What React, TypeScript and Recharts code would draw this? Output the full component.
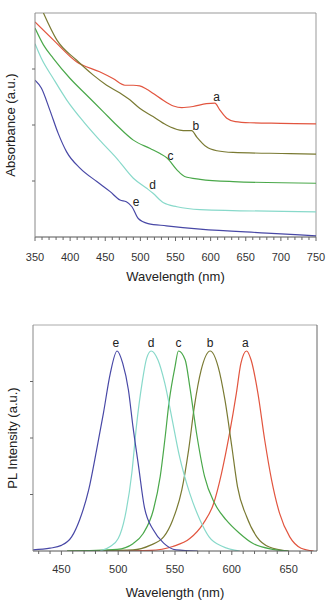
import React from 'react';
import { LineChart, Line, XAxis, YAxis, ReferenceLine, ReferenceDot } from 'recharts';

// ---------- shared ----------
const seriesNames = ['a', 'b', 'c', 'd', 'e'];
const seriesColors = ['#e2553f', '#7a7a33', '#4aa84a', '#88d9ca', '#4848a6'];

// ---------- Absorbance (top) ----------
const absAWl = [350, 376, 409, 442, 461, 478, 490, 499, 509, 528, 547, 559, 575, 594, 606, 613, 623, 635, 656, 700, 750];
const absAVal = [3.84, 3.52, 3.13, 2.95, 2.83, 2.71, 2.71, 2.70, 2.64, 2.48, 2.34, 2.31, 2.33, 2.38, 2.39, 2.27, 2.12, 2.06, 2.04, 2.03, 2.02];
const absBWl = [362, 381, 409, 433, 452, 471, 485, 499, 518, 537, 556, 566, 573, 580, 594, 609, 632, 713, 750];
const absBVal = [4.0, 3.52, 3.16, 2.89, 2.71, 2.57, 2.45, 2.30, 2.15, 2.0, 1.91, 1.90, 1.90, 1.79, 1.61, 1.54, 1.51, 1.49, 1.48];
const absCWl = [350, 362, 376, 400, 423, 447, 466, 490, 514, 528, 538, 552, 563, 585, 632, 750];
const absCVal = [3.73, 3.43, 3.19, 2.83, 2.54, 2.24, 2.0, 1.73, 1.58, 1.49, 1.41, 1.20, 1.08, 1.03, 0.99, 0.96];
const absDWl = [350, 359, 376, 395, 419, 442, 466, 490, 509, 518, 533, 552, 585, 750];
const absDVal = [3.45, 3.19, 2.83, 2.45, 2.06, 1.73, 1.41, 1.05, 0.87, 0.78, 0.61, 0.54, 0.49, 0.45];
const absEWl = [350, 359, 371, 383, 395, 414, 438, 457, 471, 480, 488, 497, 511, 537, 585, 680, 750];
const absEVal = [2.80, 2.66, 2.27, 1.85, 1.52, 1.23, 0.99, 0.81, 0.66, 0.63, 0.54, 0.33, 0.24, 0.20, 0.14, 0.07, 0.02];
const absLabelWl = [608.6, 579, 543, 517.5, 494];
const absLabelVal = [2.5, 1.98, 1.46, 0.94, 0.63];
const absMajorTicks = [350, 400, 450, 500, 550, 600, 650, 700, 750];
const absYTicks = [1, 2, 3];

// ---------- PL (bottom) ----------
const plAWl = [499, 528, 548, 563, 575, 584, 591, 598, 604, 608, 613, 617, 623, 629, 635, 642, 651, 661, 672];
const plAVal = [0, 0.01, 0.08, 0.22, 0.49, 0.84, 1.38, 2.08, 2.79, 3.32, 3.54, 3.38, 2.79, 1.96, 1.26, 0.67, 0.25, 0.05, 0];
const plBWl = [455, 513, 528, 540, 548, 556, 562, 567, 573, 581, 588, 594, 600, 605, 613, 622, 633, 650];
const plBVal = [0, 0.02, 0.10, 0.25, 0.55, 1.08, 1.79, 2.55, 3.20, 3.54, 3.26, 2.67, 1.85, 1.14, 0.61, 0.25, 0.07, 0];
const plCWl = [455, 499, 513, 522, 531, 537, 541, 545, 550, 553, 559, 563, 569, 576, 585, 595, 607, 618, 636, 650];
const plCVal = [0, 0.03, 0.13, 0.31, 0.73, 1.32, 1.96, 2.67, 3.26, 3.54, 3.38, 2.91, 2.08, 1.32, 0.84, 0.55, 0.31, 0.14, 0.03, 0];
const plDWl = [484, 493, 500, 506, 512, 516, 521, 525, 529, 535, 541, 547, 554, 563, 572, 580, 592, 607];
const plDVal = [0, 0.08, 0.22, 0.61, 1.38, 2.20, 2.97, 3.41, 3.54, 3.38, 2.97, 2.38, 1.67, 1.02, 0.55, 0.25, 0.08, 0];
const plEWl = [425, 440, 450, 459, 466, 474, 481, 487, 493, 499, 504, 509, 513, 518, 523, 531, 540, 551, 570];
const plEVal = [0.02, 0.05, 0.10, 0.25, 0.55, 1.08, 1.79, 2.44, 3.14, 3.54, 3.32, 2.85, 2.20, 1.49, 0.78, 0.37, 0.14, 0.02, 0];
const plLabelWl = [612, 581, 553, 529, 498];
const plLabelVal = [3.69, 3.69, 3.69, 3.69, 3.69];
const plMajorTicks = [450, 500, 550, 600, 650];
const plYTicks = [1, 2, 3];

const toPts = (wl: number[], v: number[]) => wl.map((w, i) => ({ wl: w, v: v[i] }));

const absSeries = [
  toPts(absAWl, absAVal),
  toPts(absBWl, absBVal),
  toPts(absCWl, absCVal),
  toPts(absDWl, absDVal),
  toPts(absEWl, absEVal),
];
const plSeries = [
  toPts(plAWl, plAVal),
  toPts(plBWl, plBVal),
  toPts(plCWl, plCVal),
  toPts(plDWl, plDVal),
  toPts(plEWl, plEVal),
];

const buildTicks = (lo: number, hi: number, step: number) => {
  const out: number[] = [];
  for (let t = lo; t <= hi; t += step) out.push(t);
  return out;
};

const FONT = '"Liberation Sans", Arial, sans-serif';

const makeXTick = (majors: number[], labelDy: number) => (props: any) => {
  const { x, y, payload } = props;
  const isMajor = majors.includes(payload.value);
  return (
    <g>
      <line x1={x} x2={x} y1={y} y2={y + (isMajor ? 4 : 3)} stroke="#666" strokeWidth={1} />
      {isMajor && (
        <text x={x} y={y + labelDy} textAnchor="middle" dominantBaseline="central" fontSize={11} fill="#333" fontFamily={FONT}>
          {payload.value}
        </text>
      )}
    </g>
  );
};

const yTick = (props: any) => {
  const { x, y } = props;
  return <line x1={x - 3} x2={x} y1={y} y2={y} stroke="#666" strokeWidth={1} />;
};

const makeYLabel = (text: string, cxOff: number) => (props: any) => {
  const vb = props.viewBox || { x: 0, y: 0, width: 0, height: 0 };
  const cx = vb.x + cxOff;
  const cy = vb.y + vb.height / 2;
  return (
    <text transform={`translate(${cx},${cy}) rotate(-90)`} textAnchor="middle" dominantBaseline="central" fontSize={13} fill="#222" fontFamily={FONT}>
      {text}
    </text>
  );
};

const makeXLabel = (text: string, dy: number) => (props: any) => {
  const vb = props.viewBox || { x: 0, y: 0, width: 0, height: 0 };
  return (
    <text x={vb.x + vb.width / 2} y={vb.y + dy} textAnchor="middle" dominantBaseline="central" fontSize={13} fill="#222" fontFamily={FONT}>
      {text}
    </text>
  );
};

const letterLabel = (s: string) => ({
  value: s,
  position: 'center' as const,
  fontSize: 12,
  fill: '#222',
  fontFamily: FONT,
});

export default function App() {
  return (
    <div style={{ position: 'absolute', left: 0, top: 0, width: 328, height: 603, background: '#fff', fontFamily: FONT }}>
      <div style={{ position: 'absolute', left: 0, top: 0 }}>
        <LineChart width={328} height={300} margin={{ top: 13, right: 12, bottom: 10, left: 0 }}>
          <XAxis
            type="number"
            dataKey="wl"
            domain={[350, 750]}
            ticks={buildTicks(350, 750, 10)}
            interval={0}
            height={53}
            tickSize={0}
            tickMargin={0}
            tickLine={false}
            axisLine={{ stroke: '#555' }}
            tick={makeXTick(absMajorTicks, 20)}
            label={makeXLabel('Wavelength (nm)', 39)}
            allowDataOverflow
          />
          <YAxis
            type="number"
            domain={[0, 4]}
            ticks={absYTicks}
            interval={0}
            width={35}
            tick={yTick}
            tickSize={0}
            tickMargin={0}
            tickLine={false}
            axisLine={{ stroke: '#888' }}
            label={makeYLabel('Absorbance (a.u.)', 10)}
            allowDataOverflow
          />
          <ReferenceLine y={4} stroke="#999" strokeWidth={1} />
          <ReferenceLine x={750} stroke="#999" strokeWidth={1} />
          {absSeries.map((d, i) => (
            <Line
              key={seriesNames[i]}
              data={d}
              dataKey="v"
              type="monotone"
              stroke={seriesColors[i]}
              strokeWidth={1.2}
              dot={false}
              activeDot={false}
              isAnimationActive={false}
            />
          ))}
          {seriesNames.map((n, i) => (
            <ReferenceDot key={'al' + n} x={absLabelWl[i]} y={absLabelVal[i]} r={0} fill="none" stroke="none" label={letterLabel(n)} />
          ))}
        </LineChart>
      </div>
      <div style={{ position: 'absolute', left: 0, top: 300 }}>
        <LineChart width={328} height={303} margin={{ top: 25, right: 11, bottom: 0, left: 0 }}>
          <XAxis
            type="number"
            dataKey="wl"
            domain={[425, 675]}
            ticks={buildTicks(430, 670, 10)}
            interval={0}
            height={52}
            tickSize={0}
            tickMargin={0}
            tickLine={false}
            axisLine={{ stroke: '#555' }}
            tick={makeXTick(plMajorTicks, 18)}
            label={makeXLabel('Wavelength (nm)', 41)}
            allowDataOverflow
          />
          <YAxis
            type="number"
            domain={[0, 4]}
            ticks={plYTicks}
            interval={0}
            width={33}
            tick={yTick}
            tickSize={0}
            tickMargin={0}
            tickLine={false}
            axisLine={{ stroke: '#888' }}
            label={makeYLabel('PL Intensity (a.u.)', 12)}
            allowDataOverflow
          />
          <ReferenceLine y={4} stroke="#aaa" strokeWidth={1} />
          <ReferenceLine x={675} stroke="#666" strokeWidth={1} />
          {plSeries.map((d, i) => (
            <Line
              key={seriesNames[i]}
              data={d}
              dataKey="v"
              type="monotone"
              stroke={seriesColors[i]}
              strokeWidth={1.2}
              dot={false}
              activeDot={false}
              isAnimationActive={false}
            />
          ))}
          {seriesNames.map((n, i) => (
            <ReferenceDot key={'pl' + n} x={plLabelWl[i]} y={plLabelVal[i]} r={0} fill="none" stroke="none" label={letterLabel(n)} />
          ))}
        </LineChart>
      </div>
    </div>
  );
}
